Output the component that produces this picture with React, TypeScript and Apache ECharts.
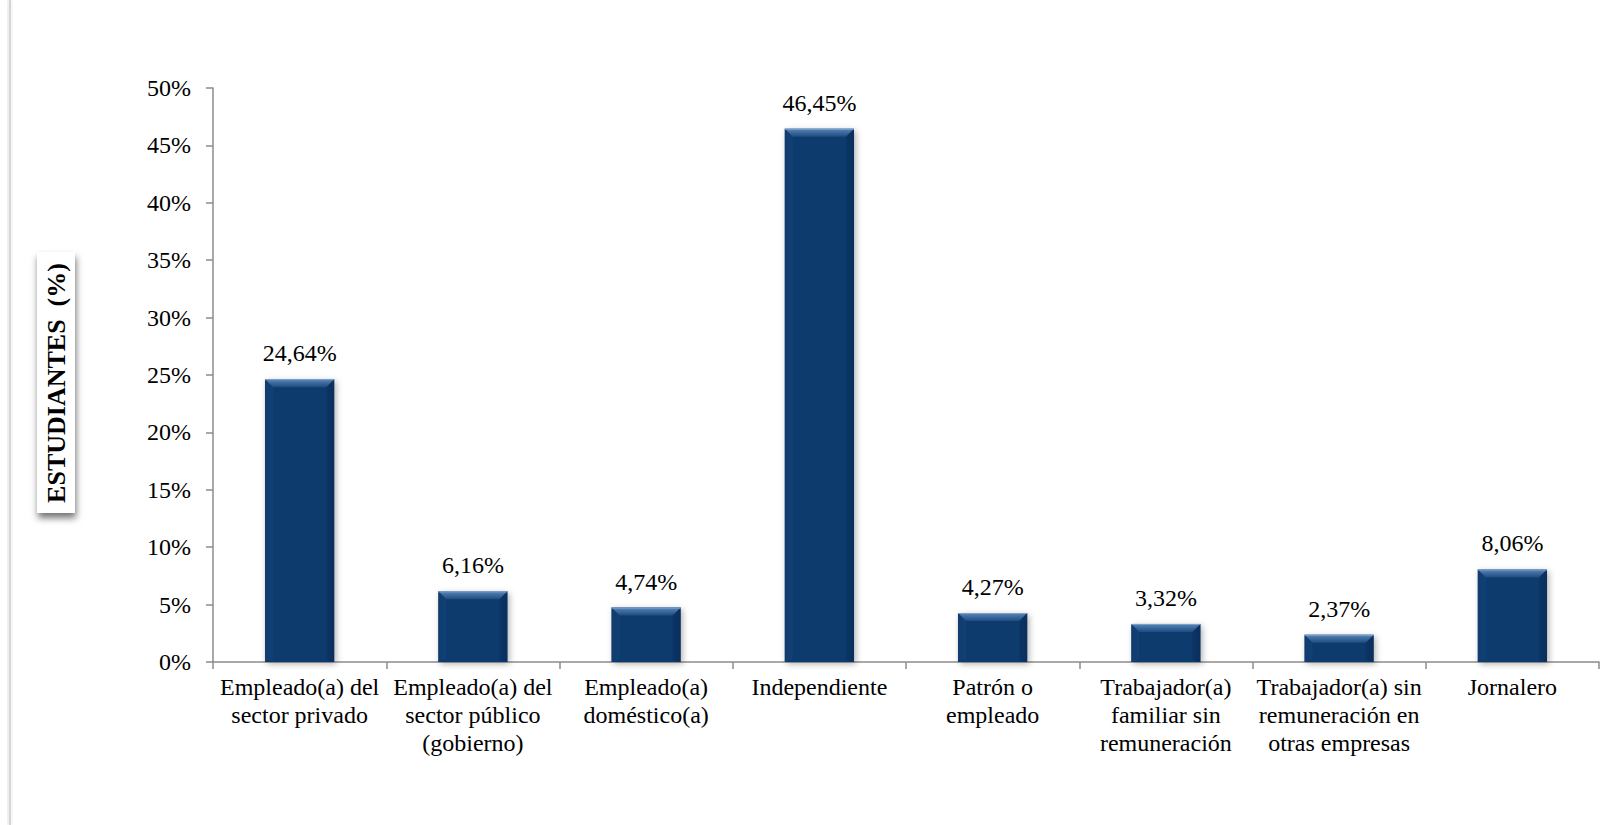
import React, { useEffect, useRef } from "react";
import * as echarts from "echarts";

const categories = [
  "Empleado(a) del\nsector privado",
  "Empleado(a) del\nsector público\n(gobierno)",
  "Empleado(a)\ndoméstico(a)",
  "Independiente",
  "Patrón o\nempleado",
  "Trabajador(a)\nfamiliar sin\nremuneración",
  "Trabajador(a) sin\nremuneración en\notras empresas",
  "Jornalero",
];
const values = [24.64, 6.16, 4.74, 46.45, 4.27, 3.32, 2.37, 8.06];
const yTitle = "ESTUDIANTES  (%)";
const FONT = "'Liberation Serif', 'Times New Roman', serif";

export default function App() {
  const ref = useRef<HTMLDivElement>(null);
  useEffect(() => {
    if (!ref.current) return;
    const chart = echarts.init(ref.current, null, { renderer: "svg" });
    const barRatio = 0.4;
    chart.setOption({
      animation: false,
      backgroundColor: "#ffffff",
      textStyle: { fontFamily: FONT },
      grid: { left: 213, right: 14, top: 88, bottom: 163 },
      xAxis: {
        type: "category",
        data: categories,
        axisLine: { lineStyle: { color: "#8c8c8c", width: 1.5 } },
        axisTick: { show: true, length: 7, lineStyle: { color: "#8c8c8c", width: 1.5 } },
        axisLabel: {
          color: "#000",
          fontSize: 24,
          fontFamily: FONT,
          lineHeight: 28,
          margin: 11,
          interval: 0,
          align: "center",
        },
      },
      yAxis: {
        type: "value",
        min: 0,
        max: 50,
        interval: 5,
        splitLine: { show: false },
        axisLine: { show: true, lineStyle: { color: "#8c8c8c", width: 1.5 } },
        axisTick: { show: true, length: 7, lineStyle: { color: "#8c8c8c", width: 1.5 } },
        axisLabel: {
          color: "#000",
          fontSize: 24,
          fontFamily: FONT,
          margin: 22,
          formatter: "{value}%",
        },
      },
      series: [
        {
          type: "bar",
          data: values,
          barWidth: "40%",
          itemStyle: {
            color: new echarts.graphic.LinearGradient(0, 0, 1, 0, [
              { offset: 0, color: "#0a3464" },
              { offset: 0.1, color: "#0b3a6e" },
              { offset: 0.9, color: "#0b3a6e" },
              { offset: 1, color: "#0a3464" },
            ]),
            shadowBlur: 6,
            shadowOffsetX: 2,
            shadowOffsetY: 2,
            shadowColor: "rgba(0,0,0,0.3)",
          },
          label: {
            show: true,
            position: "top",
            distance: 14,
            color: "#000",
            fontSize: 24,
            fontFamily: FONT,
            formatter: (p: any) => p.value.toFixed(2).replace(".", ",") + "%",
          },
        },
        {
          type: "custom",
          data: values.map((v, i) => [i, v]),
          z: 5,
          silent: true,
          renderItem: (params: any, api: any) => {
            const idx = api.value(0);
            const v = api.value(1);
            const top = api.coord([idx, v]);
            const base = api.coord([idx, 0]);
            const bw = api.size([1, 0])[0] * barRatio;
            const l = top[0] - bw / 2;
            const r = l + bw;
            const t = top[1];
            const b = base[1];
            const bev = Math.min(8, (b - t) / 2);
            return {
              type: "group",
              children: [
                {
                  type: "polygon",
                  shape: { points: [[l, t], [r, t], [r - bev, t + bev], [l + bev, t + bev]] },
                  style: {
                    fill: new echarts.graphic.LinearGradient(0, 0, 0, 1, [
                      { offset: 0, color: "#5a85b6" },
                      { offset: 1, color: "#1d4c82" },
                    ]),
                  },
                },
                {
                  type: "polygon",
                  shape: { points: [[l, t], [l + bev, t + bev], [l + bev, b - 2], [l, b]] },
                  style: { fill: "rgba(25,75,130,0.35)" },
                },
                {
                  type: "polygon",
                  shape: { points: [[r, t], [r - bev, t + bev], [r - bev, b - 2], [r, b]] },
                  style: { fill: "rgba(4,30,60,0.2)" },
                },
                {
                  type: "line",
                  shape: { x1: l, y1: t + 0.5, x2: r, y2: t + 0.5 },
                  style: { stroke: "#7fa3cf", lineWidth: 1 },
                },
              ],
            };
          },
        },
      ],
      graphic: [
        {
          type: "rect",
          left: 9,
          top: 0,
          shape: { width: 2, height: 825 },
          style: { fill: "#d6d6d6", shadowBlur: 4, shadowColor: "rgba(0,0,0,0.2)", shadowOffsetX: -1 },
        },
        {
          type: "rect",
          shape: { x: 37, y: 252, width: 38, height: 261 },
          style: {
            fill: "#ffffff",
            shadowBlur: 7,
            shadowOffsetX: 1,
            shadowOffsetY: 5,
            shadowColor: "rgba(0,0,0,0.55)",
          },
        },
        {
          type: "text",
          x: 56,
          y: 383,
          rotation: Math.PI / 2,
          style: {
            text: yTitle,
            fill: "#000",
            font: "bold 26px 'Liberation Serif', 'Times New Roman', serif",
            align: "center",
            verticalAlign: "middle",
          },
        },
      ],
    });
    return () => chart.dispose();
  }, []);
  return (
    <div
      ref={ref}
      style={{ position: "fixed", left: 0, top: 0, width: 1613, height: 825 }}
    />
  );
}
